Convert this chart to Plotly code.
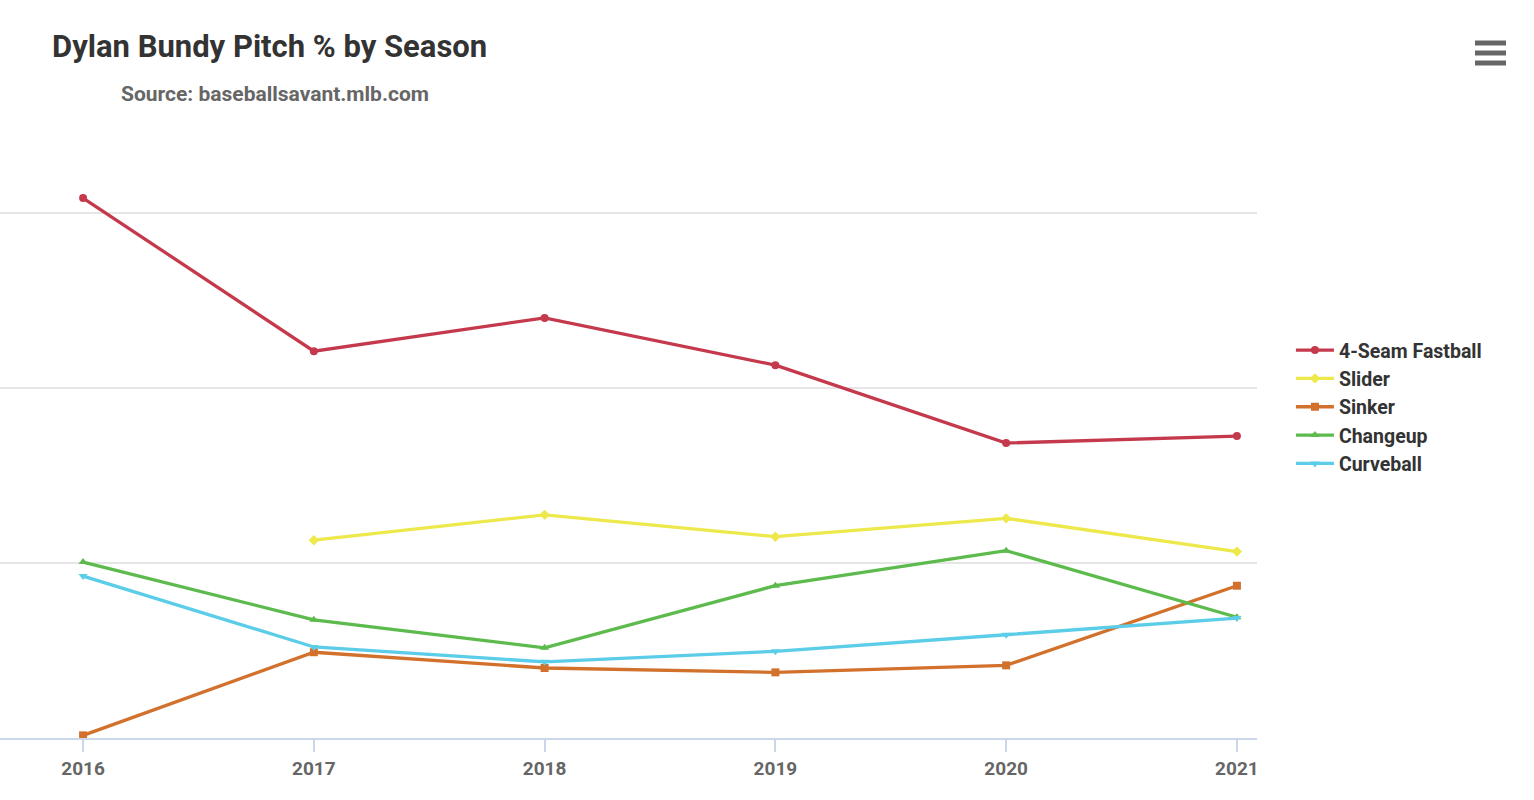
import plotly.graph_objects as go

seasons = [2016, 2017, 2018, 2019, 2020, 2021]

fourseam = [61.7, 44.2, 48.0, 42.6, 33.7, 34.5]
slider = [None, 22.6, 25.5, 23.0, 25.1, 21.3]
sinker = [0.3, 9.8, 8.0, 7.5, 8.3, 17.4]
changeup = [20.1, 13.5, 10.3, 17.4, 21.4, 13.8]
curveball = [18.5, 10.4, 8.7, 9.9, 11.8, 13.7]

font_fam = "Roboto, sans-serif"

series = [
    ("4-Seam Fastball", fourseam, "#c43a4c", "circle"),
    ("Slider", slider, "#ede84c", "diamond"),
    ("Sinker", sinker, "#d2712c", "square"),
    ("Changeup", changeup, "#5cbb4c", "triangle-up"),
    ("Curveball", curveball, "#5bcde8", "triangle-down"),
]

fig = go.Figure()
for name, vals, col, sym in series:
    fig.add_trace(go.Scatter(x=seasons, y=vals, name=name, mode='lines+markers',
                             line=dict(color=col, width=3.3),
                             marker=dict(symbol=sym, size=8, color=col),
                             cliponaxis=False))

fig.update_layout(
    width=1534, height=800,
    margin=dict(l=0, r=277, t=100, b=62),
    plot_bgcolor='white', paper_bgcolor='white',
    font=dict(family=font_fam, color='#333333'),
    title=dict(text="<b>Dylan Bundy Pitch % by Season</b>", x=52/1534, xanchor='left',
               y=1 - 46/800, yanchor='middle', xref='container', yref='container',
               font=dict(size=31, color='#333333', family=font_fam)),
    showlegend=True,
    legend=dict(x=1.027, xanchor='left', y=0.519, yanchor='middle',
                font=dict(size=19.5, color='#333333', family=font_fam, weight='bold'),
                itemwidth=38, tracegroupgap=0),
    xaxis=dict(range=[2015.64, 2021.087], tickvals=seasons, ticktext=[str(s) for s in seasons],
               showgrid=False, zeroline=False, showline=True, linecolor='#ccd6eb', linewidth=1.5,
               ticks='outside', ticklen=12, tickcolor='#ccd6eb', tickwidth=1.5,
               tickfont=dict(size=19, color='#666666', family=font_fam, weight='bold')),
    yaxis=dict(range=[0, 72.9], tickvals=[0, 20, 40, 60], showticklabels=False,
               showgrid=True, gridcolor='#e6e6e6', gridwidth=1.5, zeroline=False,
               showline=False, fixedrange=True),
)

fig.add_annotation(text="<b>Source: baseballsavant.mlb.com</b>", xref='paper', yref='paper',
                   x=119/1257, y=(738 - 94)/638, xanchor='left', yanchor='middle',
                   showarrow=False, font=dict(size=21, color='#666666', family=font_fam))

# export menu icon
for yy in [43, 53, 63]:
    fig.add_shape(type='line', xref='paper', yref='paper',
                  x0=1475/1257, x1=1506/1257, y0=(738 - yy)/638, y1=(738 - yy)/638,
                  line=dict(color='#666666', width=5))

fig.write_html("out.html", config={'displayModeBar': False},
               post_script="document.body.style.margin='0px';")
